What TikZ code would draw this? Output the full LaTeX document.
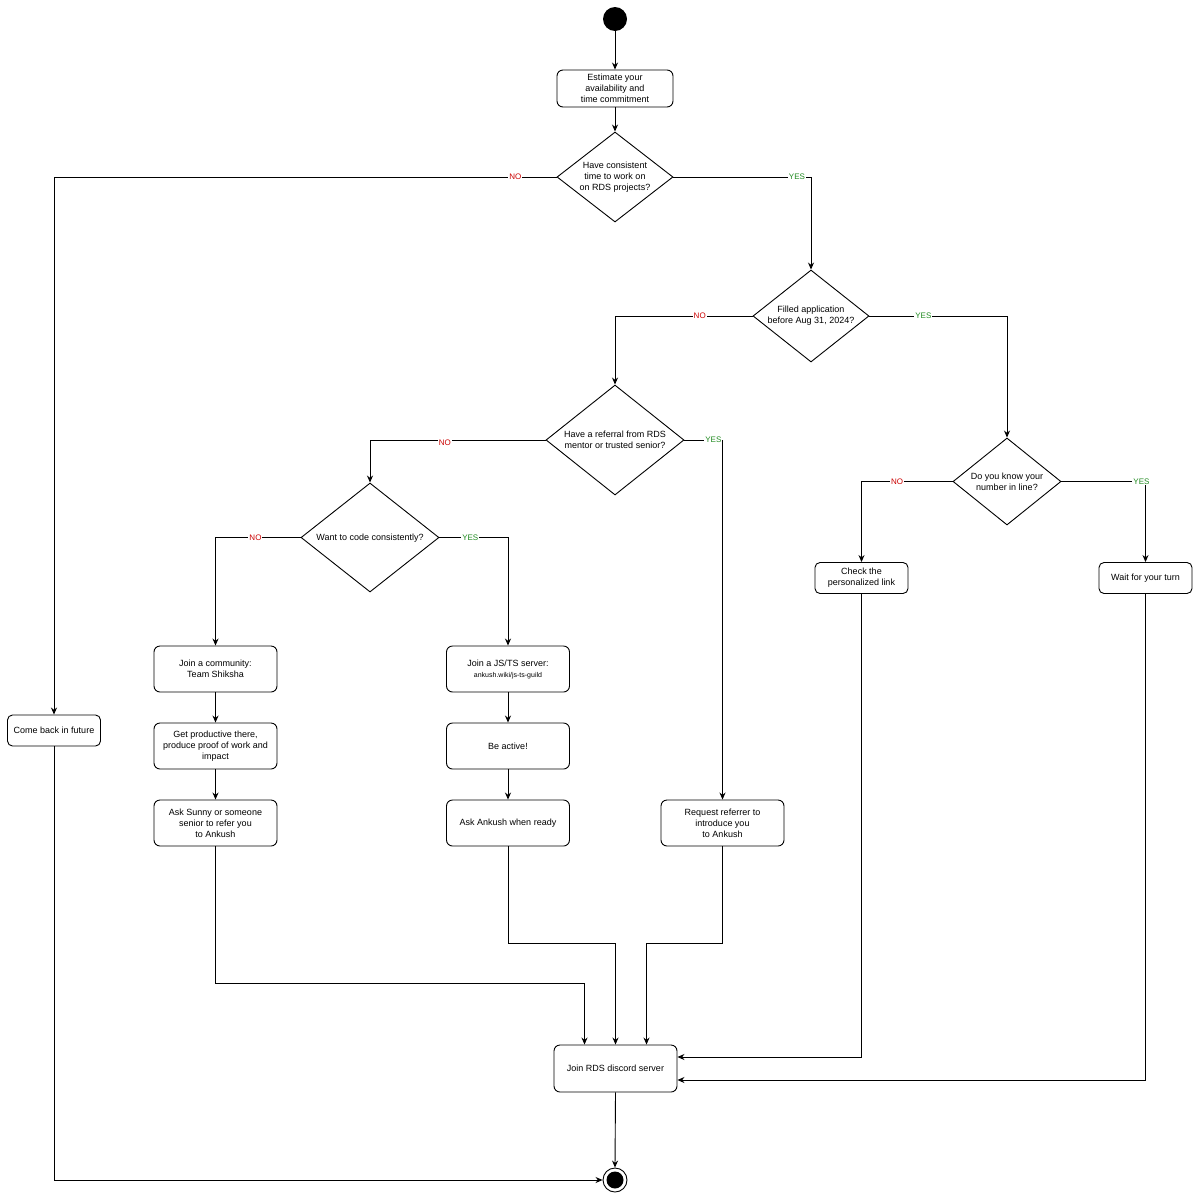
\documentclass[tikz,border=0pt]{standalone}
\usepackage{fontspec}
\setmainfont{Liberation Sans}
\usetikzlibrary{shapes.geometric,arrows.meta,calc}
\definecolor{nored}{HTML}{CC0000}
\definecolor{yesgreen}{HTML}{1F8A1F}
\begin{document}
\begin{tikzpicture}[x=1pt,y=-1pt,
  font=\fontsize{9}{11}\selectfont,
  every path/.style={line width=0.9pt},
  box/.style={draw, rounded corners=6pt, align=center, minimum width=123pt, minimum height=46pt, inner sep=2pt},
  sbox/.style={draw, rounded corners=5pt, align=center, minimum width=93pt, minimum height=31pt, inner sep=2pt},
  dia/.style={draw, shape=diamond, inner sep=0pt},
  arr/.style={-{Stealth[length=7pt,width=6pt]}},
  nolab/.style={fill=white, text=nored, inner sep=1pt, font=\fontsize{8}{9}\selectfont},
  yeslab/.style={fill=white, text=yesgreen, inner sep=1pt, font=\fontsize{8}{9}\selectfont}]
\useasboundingbox (0,0) rectangle (1200,1200);
\fill[white] (0,0) rectangle (1200,1200);

% start / end
\node[circle, fill=black, minimum size=24pt, inner sep=0pt] (start) at (615,19) {};
\node[circle, draw, minimum size=24pt, inner sep=0pt] (end) at (615,1180) {};
\node[circle, fill=black, minimum size=17pt, inner sep=0pt] (endin) at (615,1180) {};

% boxes
\node[box, minimum width=116pt, minimum height=37pt] (est) at (615,88.5) {Estimate your\\availability and\\time commitment};
\node[dia, minimum width=116pt, minimum height=90pt, label={[align=center]center:Have consistent\\time to work on\\on RDS projects?}] (d1) at (615,177) {};
\node[dia, minimum width=116pt, minimum height=92pt, label={[align=center]center:Filled application\\before Aug 31, 2024?}] (d2) at (811,316) {};
\node[dia, minimum width=138pt, minimum height=110pt, label={[align=center]center:Have a referral from RDS\\mentor or trusted senior?}] (d3) at (615,440) {};
\node[dia, minimum width=108pt, minimum height=87pt, label={[align=center]center:Do you know your\\number in line?}] (d4) at (1007,481.5) {};
\node[dia, minimum width=138pt, minimum height=109pt, label={[align=center,yshift=-1pt]center:Want to code consistently?}] (d5) at (370,537.5) {};

\node[sbox] (cb) at (54,730.5) {Come back in future};
\node[box] (jc) at (215.5,669) {Join a community:\\Team Shiksha};
\node[box] (gp) at (215.5,746) {Get productive there,\\produce proof of work and\\impact};
\node[box] (as) at (215.5,823) {Ask Sunny or someone\\senior to refer you\\to Ankush};
\node[box] (js) at (508,669) {Join a JS/TS server:\\{\fontsize{7}{9}\selectfont ankush.wiki/js-ts-guild}};
\node[box] (ba) at (508,746) {Be active!};
\node[box] (aa) at (508,823) {Ask Ankush when ready};
\node[box] (rr) at (722.5,823) {Request referrer to\\introduce you\\to Ankush};
\node[sbox] (ck) at (861.5,578) {Check the\\personalized link};
\node[sbox] (wt) at (1145.5,578) {Wait for your turn};
\node[box, minimum height=47pt] (jr) at (615.5,1068.5) {Join RDS discord server};

% connectors
\draw[arr] (start) -- (est);
\draw[arr] (est) -- (d1.north);
\draw[arr] (d1.west) -| node[nolab, pos=0.041] {NO} (cb.north);
\draw[arr] (d1.east) -| node[yeslab, pos=0.449] {YES} (d2.north);
\draw[arr] (d2.west) -| node[nolab, pos=0.192] {NO} (d3.north);
\draw[arr] (d2.east) -| node[yeslab, pos=0.196] {YES} (d4.north);
\draw[arr] (d3.west) -| node[nolab, pos=0.287, yshift=-3pt] {NO} (d5.north);
\draw[arr] (d3.east) -| node[yeslab, pos=0.38] {YES} (rr.north);
\draw[arr] (d4.west) -| node[nolab, pos=0.304] {NO} (ck.north);
\draw[arr] (d4.east) -| node[yeslab, pos=0.476] {YES} (wt.north);
\draw[arr] (d5.west) -| node[nolab, pos=0.265] {NO} (jc.north);
\draw[arr] (d5.east) -| node[yeslab, pos=0.225] {YES} (js.north);

\draw[arr] (jc) -- (gp);
\draw[arr] (gp) -- (as);
\draw[arr] (js) -- (ba);
\draw[arr] (ba) -- (aa);

\coordinate (asb) at ($(jr.north)+(-31,-61)$);
\coordinate (aab) at ($(jr.north)+(0,-101)$);
\coordinate (rrb) at ($(jr.north)+(31,-101)$);
\draw[arr] (as.south) |- (asb) -- ($(jr.north)+(-31,0)$);
\draw[arr] (aa.south) |- (aab) -- (jr.north);
\draw[arr] (rr.south) |- (rrb) -- ($(jr.north)+(31,0)$);
\draw[arr] (ck.south) |- ($(jr.east)+(0,-11.5)$);
\draw[arr] (wt.south) |- ($(jr.east)+(0,11.5)$);
\draw[arr] (jr.south) -- (end.north);
\draw[arr] (cb.south) |- (end.west);
\end{tikzpicture}
\end{document}
